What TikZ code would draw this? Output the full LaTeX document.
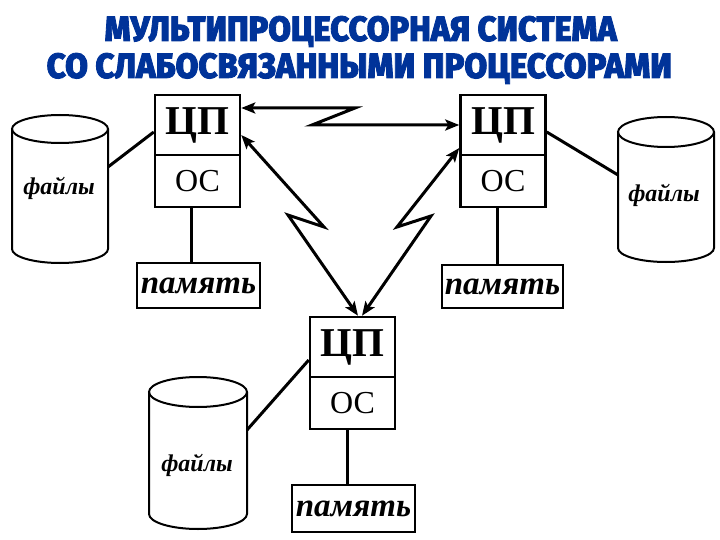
\documentclass[tikz,border=0pt]{standalone}
\usepackage{fontspec}
\setmainfont{Liberation Serif}
\IfFontExistsTF{Fira Sans Heavy}{%
  \newfontfamily\titlefont[FakeBold=1.5]{Fira Sans Heavy}\newcommand\titlewt{}}{%
  \IfFontExistsTF{Fira Sans ExtraBold}{%
    \newfontfamily\titlefont[FakeBold=2.5]{Fira Sans ExtraBold}\newcommand\titlewt{}}{%
    \IfFontExistsTF{Noto Sans Black}{%
      \newfontfamily\titlefont[FakeBold=1.5]{Noto Sans Black}\newcommand\titlewt{}}{%
      \newfontfamily\titlefont[FakeBold=5.5]{Liberation Sans}\newcommand\titlewt{\bfseries}}}}
\usetikzlibrary{arrows.meta,calc}
\definecolor{titleblue}{RGB}{0,51,153}
\tikzset{
  box/.style={draw, line width=2.5pt, inner sep=0pt, minimum width=85pt},
  cpubox/.style={box, minimum height=60pt, font=\fontsize{41}{41}\selectfont\bfseries},
  osbox/.style={box, minimum height=52pt, font=\fontsize{32}{32}\selectfont},
  membox/.style={draw, line width=2.5pt, inner sep=0pt, font=\fontsize{33}{33}\selectfont\bfseries\itshape},
  filetext/.style={inner sep=0pt, font=\fontsize{24}{24}\selectfont\bfseries\itshape},
  link/.style={line width=3pt},
  cyl/.style={line width=2pt},
  zig/.style={line width=3pt, miter limit=6, {Stealth[length=14pt,width=11pt,inset=3pt]}-{Stealth[length=14pt,width=11pt,inset=3pt]}},
  titletext/.style={inner sep=0pt, anchor=base west, text=titleblue, font=\titlefont\titlewt}
}
\begin{document}
\begin{tikzpicture}[x=1pt,y=-1pt]
\useasboundingbox (0,0) rectangle (720,540);
% title
\node[titletext] (t1) at (104.5,41) {\resizebox{512pt}{25pt}{МУЛЬТИПРОЦЕССОРНАЯ СИСТЕМА}};
\node[titletext] (t2) at (46.5,78) {\resizebox{625pt}{25pt}{СО СЛАБОСВЯЗАННЫМИ ПРОЦЕССОРАМИ}};

% modules
\node[cpubox] (cpu1) at (197.5,125) {ЦП};
\node[osbox]  (os1)  at (197.5,181) {ОС};
\node[cpubox] (cpu2) at (503,125) {ЦП};
\node[osbox]  (os2)  at (503,181) {ОС};
\node[cpubox] (cpu3) at (352.5,347) {ЦП};
\node[osbox]  (os3)  at (352.5,403) {ОС};

% memory
\node[membox, minimum width=123pt, minimum height=45pt] (mem1) at (198.5,285.5) {память};
\node[membox, minimum width=121pt, minimum height=43pt] (mem2) at (502.5,286.5) {память};
\node[membox, minimum width=123pt, minimum height=47pt] (mem3) at (353.5,508.5) {память};

\draw[link] ([xshift=-6.5pt]os1.south) -- ([xshift=-6.5pt]os1.south |- mem1.north);
\draw[link] ([xshift=-6pt]os2.south) -- ([xshift=-6pt]os2.south |- mem2.north);
\draw[link] ([xshift=-5.5pt]os3.south) -- ([xshift=-5.5pt]os3.south |- mem3.north);

% cylinders
\draw[cyl, fill=white] (12,129) -- (12,249) arc[start angle=180,end angle=360,x radius=48pt,y radius=14pt] -- (108,129);
\draw[cyl] (60,129) ellipse[x radius=48pt,y radius=14pt];
\node[filetext] (f1) at (59,188) {файлы};
\coordinate (c1) at (108,167);

\draw[cyl, fill=white] (618,132) -- (618,248) arc[start angle=180,end angle=360,x radius=48pt,y radius=14pt] -- (714,132);
\draw[cyl] (666,132) ellipse[x radius=48pt,y radius=15pt];
\node[filetext] (f2) at (664,195) {файлы};
\coordinate (c2) at (618,175);

\draw[cyl, fill=white] (149,392) -- (149,514) arc[start angle=180,end angle=360,x radius=49pt,y radius=15pt] -- (247,392);
\draw[cyl] (198,392) ellipse[x radius=49pt,y radius=15pt];
\node[filetext] (f3) at (197,465) {файлы};
\coordinate (c3) at (247,430);

\draw[link] (c1) -- ([yshift=-7pt]cpu1.west);
\draw[link] (c2) -- ([yshift=-7pt]cpu2.east);
\draw[link] (c3) -- ([yshift=-13pt]cpu3.west);

% zigzag links
\coordinate (j1a) at (355,108);
\coordinate (j1b) at (312,125);
\coordinate (j2a) at (324,227);
\coordinate (j2b) at (288,215);
\coordinate (j3a) at (397,227);
\coordinate (j3b) at (431,216);

\draw[zig] ([yshift=17pt]cpu1.east) -- (j1a) -- (j1b) -- (cpu2.west);
\draw[zig] ([yshift=-10pt]cpu1.east) -- (j2a) -- (j2b) -- ([xshift=5.5pt]cpu3.north);
\draw[zig] ([yshift=-23pt]cpu2.west) -- (j3a) -- (j3b) -- ([xshift=9.5pt]cpu3.north);
\end{tikzpicture}
\end{document}
